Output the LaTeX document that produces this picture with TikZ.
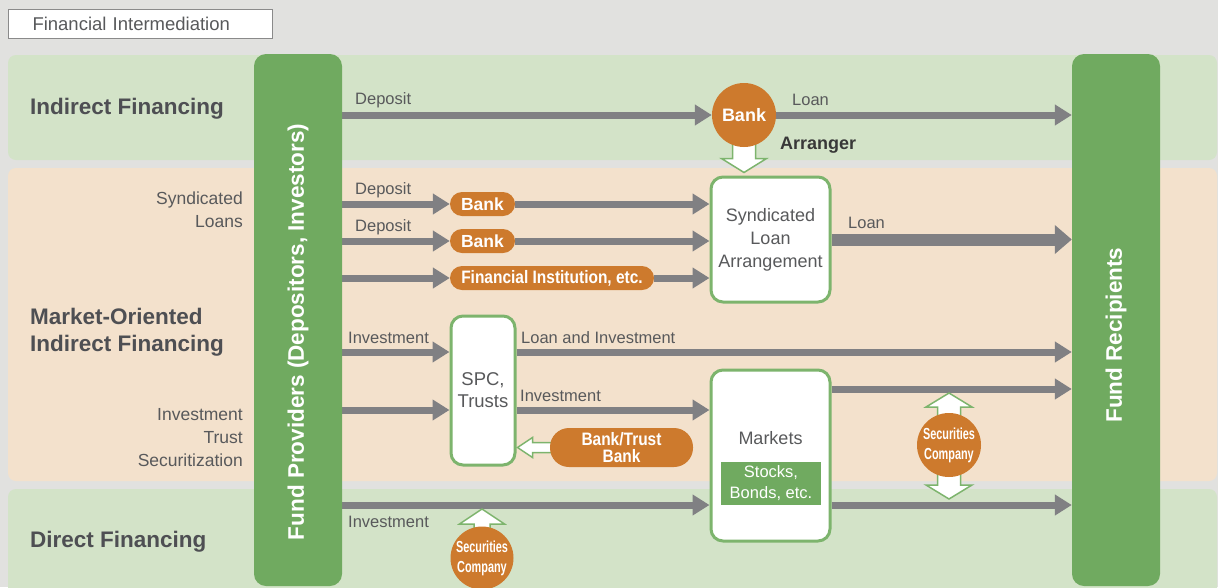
\documentclass[tikz,border=0pt]{standalone}
\usepackage{fontspec}
\setmainfont{Liberation Sans}
\newfontfamily\narrowfont[FakeStretch=0.86]{Liberation Sans}
\newfontfamily\tightfont[FakeStretch=0.68]{Liberation Sans}
\usetikzlibrary{arrows.meta,calc}
\pgfdeclarelayer{back}
\pgfdeclarelayer{mid}
\pgfsetlayers{back,mid,main}

\definecolor{bggray}{HTML}{E1E1DF}
\definecolor{lightgreen}{HTML}{D3E3C8}
\definecolor{peach}{HTML}{F3E1CC}
\definecolor{darkgreen}{HTML}{70AA60}
\definecolor{boxgreen}{HTML}{7DB46D}
\definecolor{orange}{HTML}{CD7A2D}
\definecolor{arrowgray}{HTML}{808083}
\definecolor{txtgray}{HTML}{58595B}
\definecolor{sidegray}{HTML}{4E4F53}
\definecolor{titlegray}{HTML}{8A8A8A}

\newcommand\fsz[2]{\fontsize{#1}{#2}\selectfont}
% tip, angle, length, head length, head half width, shaft half width
\newcommand\hollowarrow[6]{%
  \draw[hollow,shift={(#1)},rotate=#2] (0,0) -- (-#4,#5) -- (-#4,#6) -- (-#3,#6)
    -- (-#3,-#6) -- (-#4,-#6) -- (-#4,-#5) -- cycle;}

\begin{document}
\begin{tikzpicture}[x=1pt,y=-1pt,
    every node/.style={inner sep=0pt},
    band/.style={rounded corners=8pt},
    column/.style={fill=darkgreen,rounded corners=12pt,minimum width=88pt,minimum height=532pt},
    coltext/.style={rotate=90,text=white,font=\bfseries\fsz{22.5}{24}},
    box/.style={draw=boxgreen,line width=3pt,fill=white,rounded corners=12pt,text=txtgray,align=center},
    pill/.style={fill=orange,rounded corners=12pt,minimum height=24pt,text=white,font=\bfseries\fsz{17.5}{20}},
    disc/.style={circle,fill=orange,text=white,align=center},
    lbl/.style={text=txtgray,font=\fsz{16.5}{20},anchor=west},
    side/.style={text=txtgray,font=\fsz{17.5}{23},align=right,anchor=east},
    head/.style={text=sidegray,font=\bfseries\fsz{22.5}{27},align=left,anchor=west},
    flow/.style={draw=arrowgray,line width=7pt,-{Triangle[length=17pt,width=20pt]}},
    bigflow/.style={draw=arrowgray,line width=12pt,-{Triangle[length=17pt,width=28pt]}},
    hollow/.style={draw=boxgreen,fill=white,line width=1.5pt,line join=miter},
]

    \useasboundingbox (0,0) rectangle (1218,587);

    % bands
    \begin{pgfonlayer}{back}
        \fill[bggray] (0,0) rectangle (1218,587);
        \fill[band,lightgreen] (8,55) rectangle (1217,160);
        \fill[band,peach] (8,168) rectangle (1217,481);
        \fill[band,lightgreen] (8,489) rectangle (1217,610);
    \end{pgfonlayer}

    \node[draw=titlegray,line width=1pt,fill=white,anchor=north west,minimum height=29pt,
        text width=216pt,inner xsep=24pt,align=left,text=txtgray,font=\fsz{18.5}{20}]
        (title) at (8,9) {Financial Intermediation};

    % side labels
    \node[head] (indirect) at (30,109) {Indirect Financing};
    \node[side] (syndlbl) at (243,210) {Syndicated\\Loans};
    \node[head] (market) at (30,332) {Market-Oriented\\Indirect Financing};
    \node[side] (trustlbl) at (243,438) {Investment\\Trust\\Securitization};
    \node[head] (direct) at (30,542) {Direct Financing};

    % columns
    \node[column] (providers) at (298,320) {};
    \node[coltext] (provlbl) at (298,332) {Fund Providers (Depositors, Investors)};
    \node[column] (recipients) at (1116,320) {};
    \node[coltext] (reclbl) at (1116,335) {Fund Recipients};

    % intermediaries
    \node[disc,minimum size=64pt,font=\bfseries\fsz{18}{20}] (bank) at (744,115) {Bank};
    \node[box,minimum width=119pt,minimum height=125pt,font=\fsz{18}{23}] (synd) at (770.5,239.5)
        {Syndicated\\Loan\\Arrangement};
    \node[pill,minimum width=65pt] (bankB) at (482.5,204) {Bank};
    \node[pill,minimum width=65pt] (bankC) at (482.5,241) {Bank};
    \node[pill,minimum width=204pt,font=\narrowfont\bfseries\fsz{18}{20}] (fininst) at (552,278)
        {Financial Institution, etc.};
    \node[box,minimum width=64pt,minimum height=149pt,font=\fsz{18.5}{22}] (spc) at (483,390.5)
        {SPC,\\Trusts};
    \node[pill,minimum width=143pt,minimum height=39pt,rounded corners=19pt,align=center,
        font=\narrowfont\bfseries\fsz{18}{17}] (banktrust) at (621.5,447.5) {Bank/Trust\\Bank};
    \node[box,minimum width=119pt,minimum height=171pt] (markets) at (770.5,455.5) {};
    \node[text=txtgray,font=\fsz{18}{20}] (mktlbl) at (770.5,438) {Markets};
    \node[fill=darkgreen,minimum width=100pt,minimum height=43pt,text=white,align=center,
        font=\fsz{16.5}{21}] (stocks) at (771,483.5) {Stocks,\\Bonds, etc.};
    \node[disc,minimum size=64pt,font=\tightfont\bfseries\fsz{16}{20}] (seccoA) at (949,445)
        {Securities\\Company};
    \node[disc,minimum size=63pt,font=\tightfont\bfseries\fsz{16}{20}] (seccoB) at (482,558)
        {Securities\\Company};

    % flow labels
    \node[lbl] (dep1) at (355,100) {Deposit};
    \node[lbl] (loan1) at (792,100) {Loan};
    \node[lbl,text=black!78,font=\bfseries\fsz{18}{20}] (arranger) at (780,145) {Arranger};
    \node[lbl] (dep2) at (355,190) {Deposit};
    \node[lbl] (dep3) at (355,227) {Deposit};
    \node[lbl] (loan2) at (848,223) {Loan};
    \node[lbl] (inv1) at (348,338) {Investment};
    \node[lbl] (loaninv) at (521,338) {Loan and Investment};
    \node[lbl] (inv2) at (520,396) {Investment};
    \node[lbl] (inv3) at (348,522) {Investment};

    \coordinate (r3a) at (0,352);
    \coordinate (r3b) at (0,410);
    \coordinate (r3c) at (0,389);
    \coordinate (r4) at (0,505);

    % flows
    \begin{pgfonlayer}{mid}
        \draw[flow] (providers.east |- bank) -- (bank.west);
        \draw[flow] (bank.east) -- (bank -| recipients.west);
        \draw[flow] (providers.east |- bankB) -- (bankB.west);
        \draw[flow] (bankB.east) -- (bankB -| synd.west);
        \draw[flow] (providers.east |- bankC) -- (bankC.west);
        \draw[flow] (bankC.east) -- (bankC -| synd.west);
        \draw[flow] (providers.east |- fininst) -- (fininst.west);
        \draw[flow] (fininst.east) -- (fininst -| synd.west);
        \draw[bigflow] (synd.east) -- (synd -| recipients.west);
        \draw[flow] (providers.east |- r3a) -- (spc.west |- r3a);
        \draw[flow] (spc.east |- r3a) -- (recipients.west |- r3a);
        \draw[flow] (providers.east |- r3b) -- (spc.west |- r3b);
        \draw[flow] (spc.east |- r3b) -- (markets.west |- r3b);
        \draw[flow] (markets.east |- r3c) -- (recipients.west |- r3c);
        \draw[flow] (providers.east |- r4) -- (markets.west |- r4);
        \draw[flow] (markets.east |- r4) -- (recipients.west |- r4);

        \coordinate (dtip) at ($(bank.south |- synd.north)+(0,-3)$);
        \hollowarrow{dtip}{-90}{33}{14}{22.5}{11.5}
        \coordinate (ltip) at ($(spc.east |- banktrust)+(1,0)$);
        \hollowarrow{ltip}{180}{36}{15}{10}{5}
        \coordinate (utip) at ($(seccoB |- r4)+(0,4)$);
        \hollowarrow{utip}{90}{25}{15}{22.5}{8}
        \coordinate (sutip) at ($(seccoA |- r3c)+(0,4)$);
        \hollowarrow{sutip}{90}{30}{14}{23}{11.5}
        \coordinate (sdtip) at ($(seccoA |- r4)+(0,-6)$);
        \hollowarrow{sdtip}{-90}{30}{14}{23}{11.5}
    \end{pgfonlayer}

\end{tikzpicture}
\end{document}
